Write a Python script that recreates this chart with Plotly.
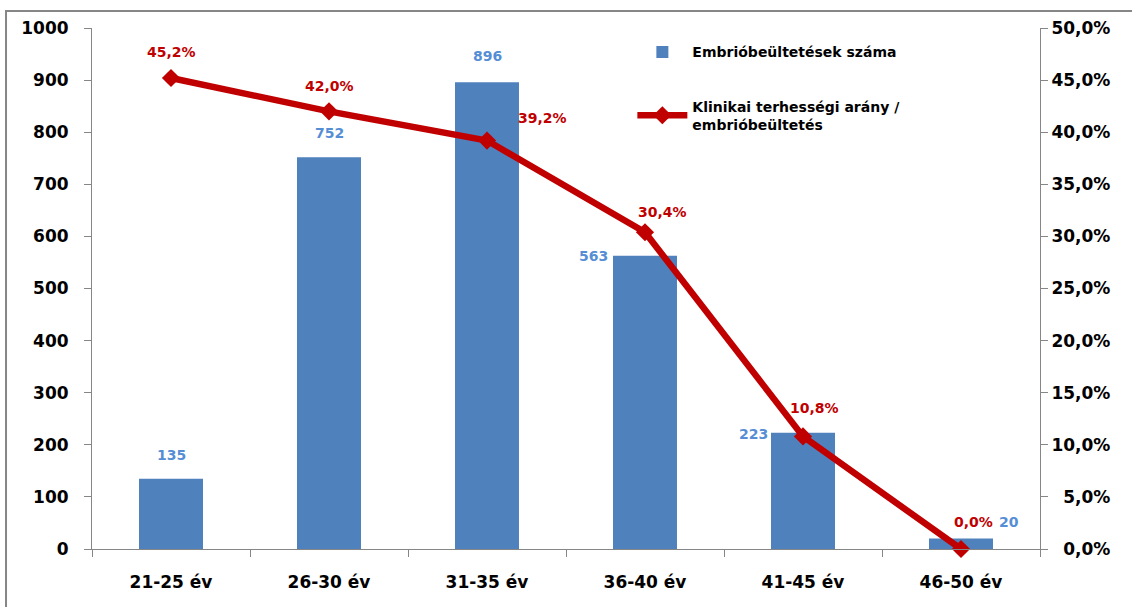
import plotly.graph_objects as go

categories = ["21-25 év", "26-30 év", "31-35 év", "36-40 év", "41-45 év", "46-50 év"]
transfers = [135, 752, 896, 563, 223, 20]
rate = [0.452, 0.420, 0.392, 0.304, 0.108, 0.0]
rate_labels = ["45,2%", "42,0%", "39,2%", "30,4%", "10,8%", "0,0%"]
right_tick_vals = [0.0, 0.05, 0.10, 0.15, 0.20, 0.25, 0.30, 0.35, 0.40, 0.45, 0.50]
right_tick_text = ["\u20070,0%", "\u20075,0%", "10,0%", "15,0%", "20,0%", "25,0%",
                   "30,0%", "35,0%", "40,0%", "45,0%", "50,0%"]

bar_color = "#4F81BD"
bar_label_color = "#558ED5"
line_color = "#C00000"
axis_color = "#868686"
font_family = "'DejaVu Sans', sans-serif"

fig = go.Figure()
fig.add_trace(go.Bar(
    x=categories, y=transfers, name="Embrióbeültetések száma", legendgroup="a",
    marker=dict(color=bar_color, line=dict(width=0)), width=0.405,
))
fig.add_trace(go.Scatter(
    x=categories, y=rate, name="Klinikai terhességi arány /<br>embrióbeültetés",
    legendgroup="b", mode="lines+markers", yaxis="y2", cliponaxis=False,
    line=dict(color=line_color, width=6.5),
    marker=dict(symbol="diamond", size=14, color=line_color),
))

# bar labels (offsets in pixels)
bar_offsets = [(0, 24, "center"), (0, 24, "center"), (0, 26, "center"),
               (-35, 0, "right"), (-33, -1, "right"), (36, 17, "left")]
for c, v, (dx, dy, xa) in zip(categories, transfers, bar_offsets):
    fig.add_annotation(x=c, y=v, xref="x", yref="y", text=f"<b>{v}</b>",
                       showarrow=False, xshift=dx, yshift=dy, xanchor=xa, yanchor="middle",
                       font=dict(family=font_family, size=14, color=bar_label_color))

line_offsets = [(0, 26), (0, 25), (55, 23), (17, 20), (11, 28), (12, 27)]
for c, v, t, (dx, dy) in zip(categories, rate, rate_labels, line_offsets):
    fig.add_annotation(x=c, y=v, xref="x", yref="y2", text=f"<b>{t}</b>",
                       showarrow=False, xshift=dx, yshift=dy, xanchor="center", yanchor="middle",
                       font=dict(family=font_family, size=14, color=line_color))

tickfont = dict(family=font_family, size=17, color="black", weight="bold")

fig.update_layout(
    width=1132, height=607,
    margin=dict(l=92, r=92, t=28, b=58),
    paper_bgcolor="white", plot_bgcolor="white",
    separators=",.",
    bargap=0.595,
    font=dict(family=font_family, size=16, color="black"),
    xaxis=dict(
        type="category", showline=True, linecolor=axis_color, linewidth=1,
        ticks="outside", tickson="boundaries", ticklen=7, tickcolor=axis_color,
        tickfont=tickfont, ticklabelstandoff=18,
        showgrid=False, range=[-0.5, 5.5],
    ),
    yaxis=dict(
        range=[0, 1000], dtick=100, showline=True, linecolor=axis_color, linewidth=1,
        ticks="outside", ticklen=7, tickcolor=axis_color, showgrid=False, zeroline=False,
        tickfont=tickfont, ticklabelstandoff=12,
    ),
    yaxis2=dict(
        range=[0, 0.5], tickvals=right_tick_vals, ticktext=right_tick_text,
        overlaying="y", side="right",
        showline=True, linecolor=axis_color, linewidth=1,
        ticks="outside", ticklen=7, tickcolor=axis_color, showgrid=False, zeroline=False,
        tickfont=tickfont, ticklabelstandoff=0,
    ),
    legend=dict(
        x=0.57, y=0.984, xanchor="left", yanchor="top",
        bgcolor="rgba(0,0,0,0)", itemwidth=50, tracegroupgap=33,
        font=dict(family=font_family, size=14, color="black", weight="bold"),
    ),
    showlegend=True,
    shapes=[dict(type="rect", xref="paper", yref="paper",
                 x0=-0.0907, y0=-0.3, x1=1.2, y1=1.0326,
                 line=dict(color=axis_color, width=2), fillcolor="rgba(0,0,0,0)",
                 layer="below")],
)

fig.write_html("out.html")
